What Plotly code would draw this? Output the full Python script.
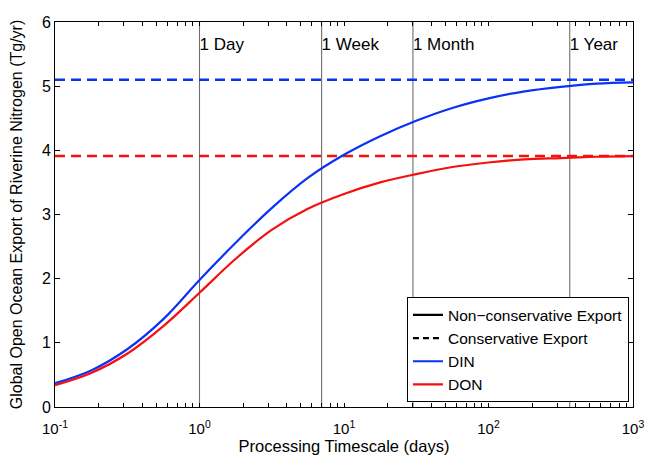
import plotly.graph_objects as go

# Processing timescale (days), sampled every quarter decade
timescale = [0.1, 0.178, 0.316, 0.562, 1.0, 1.78, 3.16, 5.62, 10.0, 17.8, 31.6, 56.2,
             100.0, 178.0, 316.0, 562.0, 1000.0]
din_export = [0.37, 0.57, 0.90, 1.37, 1.98, 2.56, 3.10, 3.57, 3.93, 4.22, 4.46, 4.66,
              4.81, 4.92, 4.99, 5.04, 5.06]
don_export = [0.34, 0.53, 0.83, 1.26, 1.78, 2.31, 2.76, 3.09, 3.32, 3.50, 3.63, 3.74,
              3.81, 3.86, 3.88, 3.90, 3.91]
din_conservative = 5.10
don_conservative = 3.91

marker_days = [1, 7, 30, 365]
marker_labels = ["1 Day", "1 Week", "1 Month", "1 Year"]
label_level = 5.63

decade_vals = [0.1, 1, 10, 100, 1000]
decade_text = ["10<sup>-1</sup>", "10<sup>0</sup>", "10<sup>1</sup>", "10<sup>2</sup>", "10<sup>3</sup>"]

BLUE = "#0a32f5"
RED = "#f51010"
FONT = "Liberation Sans, Arial, sans-serif"

fig = go.Figure()

# vertical reference lines
for d in marker_days:
    fig.add_trace(go.Scatter(x=[d, d], y=[0, 6], mode="lines",
                             line=dict(color="#6e6e6e", width=1.1),
                             showlegend=False, hoverinfo="skip"))
fig.add_trace(go.Scatter(x=marker_days, y=[label_level] * len(marker_days), mode="text",
                         text=marker_labels, textposition="middle right",
                         textfont=dict(size=17, color="black", family=FONT),
                         showlegend=False, hoverinfo="skip"))

xends = [timescale[0], timescale[-1]]
fig.add_trace(go.Scatter(x=xends, y=[din_conservative] * 2, mode="lines",
                         line=dict(color=BLUE, width=2.5, dash="10px,6px"), showlegend=False))
fig.add_trace(go.Scatter(x=xends, y=[don_conservative] * 2, mode="lines",
                         line=dict(color=RED, width=2.5, dash="10px,6px"), showlegend=False))
fig.add_trace(go.Scatter(x=timescale, y=din_export, mode="lines", line_shape="spline",
                         line=dict(color=BLUE, width=2.2), showlegend=False))
fig.add_trace(go.Scatter(x=timescale, y=don_export, mode="lines", line_shape="spline",
                         line=dict(color=RED, width=2.2), showlegend=False))

# legend entries
fig.add_trace(go.Scatter(x=[None], y=[None], mode="lines", name="Non\u2212conservative Export",
                         line=dict(color="black", width=2.2)))
fig.add_trace(go.Scatter(x=[None], y=[None], mode="lines", name="Conservative Export",
                         line=dict(color="black", width=2.2, dash="6px,4px")))
fig.add_trace(go.Scatter(x=[None], y=[None], mode="lines", name="DIN",
                         line=dict(color=BLUE, width=2.2)))
fig.add_trace(go.Scatter(x=[None], y=[None], mode="lines", name="DON",
                         line=dict(color=RED, width=2.2)))

tickvals = []
ticktext = []
for dec in [0.1, 1, 10, 100]:
    for m in range(1, 10):
        tickvals.append(dec * m)
        ticktext.append(decade_text[decade_vals.index(dec)] if m == 1 else "")
tickvals.append(1000)
ticktext.append(decade_text[-1])

fig.update_layout(
    width=647, height=455,
    margin=dict(l=55, r=14, t=22, b=48),
    paper_bgcolor="white", plot_bgcolor="white",
    font=dict(family=FONT, size=15, color="black"),
    legend=dict(x=0.993, y=0.012, xanchor="right", yanchor="bottom",
                bordercolor="black", borderwidth=1, bgcolor="white",
                font=dict(size=15.5), tracegroupgap=0, itemwidth=30),
    xaxis=dict(type="log", range=[-1, 3], tickvals=tickvals, ticktext=ticktext,
               ticks="inside", ticklen=4, tickcolor="black", showline=True,
               linecolor="black", linewidth=1, mirror="ticks", showgrid=False,
               zeroline=False, tickfont=dict(size=15), automargin=False,
               ticklabelstandoff=8,
               title=dict(text="Processing Timescale (days)", font=dict(size=16.5))),
    yaxis=dict(range=[0, 6], dtick=1, ticks="inside", ticklen=5, tickcolor="black",
               showline=True, linecolor="black", linewidth=1, mirror="ticks",
               showgrid=False, zeroline=False, tickfont=dict(size=16), automargin=False,
               title=dict(text="Global Open Ocean Export of Riverine Nitrogen (Tg/yr)",
                          font=dict(size=16))),
)

fig.write_html("out.html", config={"displayModeBar": False},
               post_script="document.body.style.margin='0px';")
